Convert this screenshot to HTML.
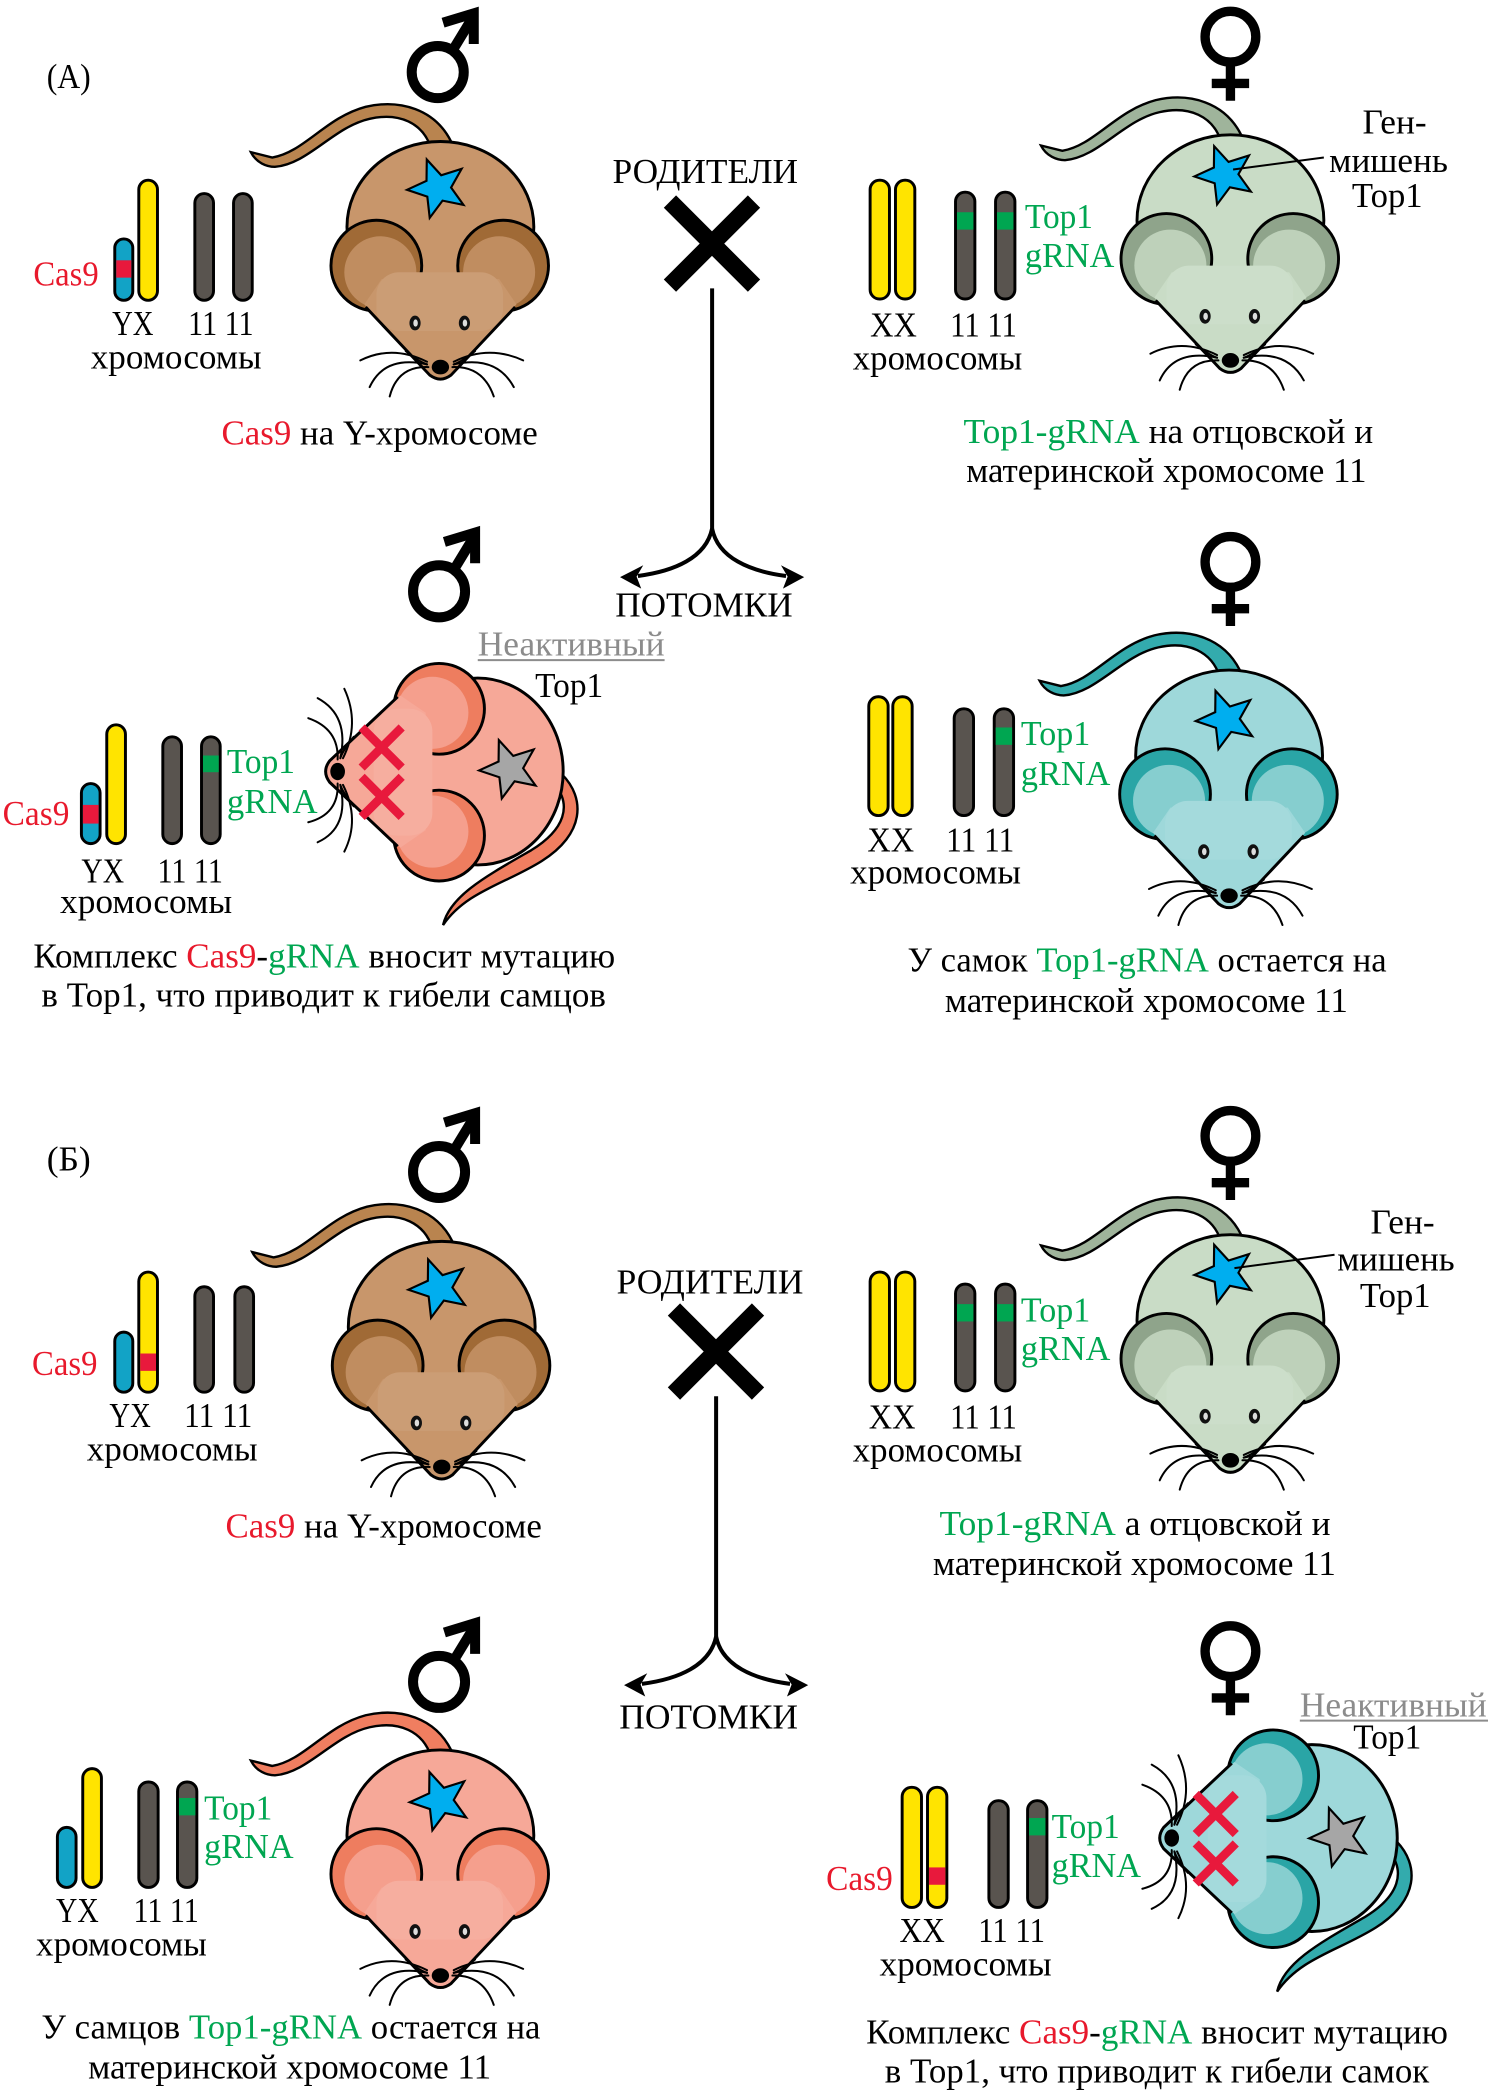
<!DOCTYPE html>
<html><head><meta charset="utf-8"><style>html,body{margin:0;padding:0;background:#fff;}svg{display:block;font-family:"Liberation Serif","Times New Roman",serif;}svg text{font-family:"Liberation Serif","Times New Roman",serif;}</style></head>
<body>
<svg xmlns="http://www.w3.org/2000/svg" width="1488" height="2093" viewBox="0 0 1115 1568" preserveAspectRatio="none" font-size="26">
<defs>
 <polygon id="star" points="-8.2,-21.5 2.6,-9.7 17.9,-14.5 10,-0.5 19.3,12.5 3.6,9.3 -6,22.2 -7.8,6.3 -23,1.2 -8.4,-5.5" stroke="#000" stroke-width="1.6"/>
 <path id="tailU" d="M8,-169 C-4,-193 -30,-201 -56,-195 C-86,-187 -102,-161 -126,-157 L-142,-161 C-138,-153 -130,-150 -124,-150 C-99,-152 -80,-180 -53,-186 C-31,-191 -13,-183 -7,-164 Z" stroke="#000" stroke-width="1.8"/>
 <path id="tailR" d="M168,2 C186,20 185,47 153,67 C126,84 96,90 79,115 C84,93 112,78 145,59 C171,43 175,25 163,10 Z" stroke="#000" stroke-width="1.8"/>
 <g id="mouse">
  <ellipse cx="0" cy="-105" rx="70" ry="64" stroke="#000" stroke-width="2.2"/>
  <circle cx="-48" cy="-76" r="34" fill="currentColor" stroke="#000" stroke-width="2.2"/>
  <circle cx="-45" cy="-71" r="27" fill-opacity="0.8"/>
  <circle cx="47" cy="-76" r="34" fill="currentColor" stroke="#000" stroke-width="2.2"/>
  <circle cx="44" cy="-71" r="27" fill-opacity="0.8"/>
  <path d="M-57,-47 L-8,6 Q0,12 8,6 L57,-47 L44,-66 L-44,-66 Z"/>
  <rect x="-48" y="-71" width="95" height="44" rx="17"/>
  <rect x="-48" y="-71" width="95" height="44" rx="17" fill="#fff" fill-opacity="0.07"/>
  <path d="M-56,-45 L-8,6 Q0,12 8,6 L56,-45" fill="none" stroke="#000" stroke-width="2.2"/>
  <g fill="none" stroke="#000" stroke-width="1.5" stroke-linecap="round">
   <path d="M-10,-4 Q-36,-17 -60,-5"/>
   <path d="M-10,-2 Q-42,-9 -53,15"/>
   <path d="M-9,0 Q-32,-1 -38,22"/>
   <path d="M10,-4 Q36,-17 62,-5"/>
   <path d="M10,-2 Q42,-9 55,15"/>
   <path d="M9,0 Q32,-1 40,22"/>
   <path d="M-26,-12 Q-16,-4 -10,-2"/>
   <path d="M26,-12 Q16,-4 10,-2"/>
  </g>
  <ellipse cx="0" cy="0" rx="6.5" ry="5.5" fill="#000"/>
 </g>
 <g id="eyes">
  <ellipse cx="-19" cy="-33" rx="4.2" ry="5.5" fill="#111"/>
  <ellipse cx="18" cy="-33" rx="4.2" ry="5.5" fill="#111"/>
  <ellipse cx="-18.6" cy="-33" rx="1.7" ry="2.7" fill="#ddd"/>
  <ellipse cx="18.4" cy="-33" rx="1.7" ry="2.7" fill="#ddd"/>
 </g>
 <g id="xx" stroke="#e8193c" stroke-width="6.5" fill="none">
  <path d="M-34,-48 L-4,-18 M-4,-48 L-34,-18 M3,-48 L33,-18 M33,-48 L3,-18"/>
 </g>
 <g id="male" fill="none" stroke="#000" stroke-width="7.5">
  <circle r="19.5"/>
  <path d="M11,-16 L25,-39"/>
  <path d="M4,-37 L27,-44 L27,-21" stroke-linejoin="miter" stroke-miterlimit="10"/>
 </g>
 <g id="female" fill="none" stroke="#000" stroke-width="7">
  <circle r="19"/>
  <path d="M0,22 V48 M-14,35 H14"/>
 </g>
 <g id="cross">
  <path d="M502,151 L565,214 M565,151 L502,214" stroke="#000" stroke-width="13" fill="none"/>
  <path d="M533.6,216 V396" stroke="#000" stroke-width="3" fill="none"/>
  <path d="M533.6,396 C529,418 505,428 478,431.5" stroke="#000" stroke-width="3" fill="none"/>
  <path d="M533.6,396 C538,418 562,428 589,431.5" stroke="#000" stroke-width="3" fill="none"/>
  <polygon points="464.6,432.4 482,423.5 477,432 480.5,441" fill="#000"/>
  <polygon points="602.6,432.4 585.2,423.5 590.2,432 586.7,441" fill="#000"/>
 </g>
</defs>

<!-- ===================== SECTION A ===================== -->
<text x="35" y="66" textLength="33" lengthAdjust="spacingAndGlyphs">(А)</text>

<rect x="86" y="179" width="13.5" height="46" rx="6.7" fill="#12a3c6" stroke="#000" stroke-width="2.2"/>
<rect x="87.1" y="195" width="11.3" height="13" fill="#e8193c"/>
<rect x="104" y="135" width="14" height="90" rx="7" fill="#ffe400" stroke="#000" stroke-width="2.2"/>
<rect x="146" y="145" width="14" height="80" rx="7" fill="#59544f" stroke="#000" stroke-width="2.2"/>
<rect x="175" y="145" width="14" height="80" rx="7" fill="#59544f" stroke="#000" stroke-width="2.2"/>
<text x="25" y="214" textLength="49" lengthAdjust="spacingAndGlyphs" fill="#e8192c">Cas9</text>
<text x="84" y="251" textLength="31" lengthAdjust="spacingAndGlyphs">YX</text>
<text x="141" y="251" textLength="49" lengthAdjust="spacingAndGlyphs">11 11</text>
<text x="68" y="276" textLength="128" lengthAdjust="spacingAndGlyphs">хромосомы</text>
<text x="166" y="333" textLength="237" lengthAdjust="spacingAndGlyphs"><tspan fill="#e8192c">Cas9</tspan> на Y-хромосоме</text>

<use href="#male" transform="translate(328,54)"/>
<use href="#tailU" transform="translate(330,275)" fill="#b9844f"/>
<use href="#mouse" transform="translate(330,275)" fill="#c8966b" color="#a06a36"/>
<use href="#eyes" transform="translate(330,275)"/>
<use href="#star" transform="translate(328,141)" fill="#00aeef"/>

<text x="459" y="137" textLength="139" lengthAdjust="spacingAndGlyphs">РОДИТЕЛИ</text>
<use href="#cross"/>
<text x="461" y="462" textLength="133" lengthAdjust="spacingAndGlyphs">ПОТОМКИ</text>

<use href="#female" transform="translate(922,27.5)"/>
<use href="#tailU" transform="translate(922,270)" fill="#9fb49b"/>
<use href="#mouse" transform="translate(922,270)" fill="#c9dcc6" color="#8fa48b"/>
<use href="#eyes" transform="translate(922,270)"/>
<use href="#star" transform="translate(918,131)" fill="#00aeef"/>
<line x1="924" y1="127" x2="992" y2="118" stroke="#000" stroke-width="1.5"/>
<text x="1021" y="100" textLength="48" lengthAdjust="spacingAndGlyphs">Ген-</text>
<text x="996" y="129" textLength="89" lengthAdjust="spacingAndGlyphs">мишень</text>
<text x="1013" y="155" textLength="53" lengthAdjust="spacingAndGlyphs">Top1</text>

<rect x="652" y="135" width="14.5" height="89" rx="7" fill="#ffe400" stroke="#000" stroke-width="2.2"/>
<rect x="671" y="135" width="14.5" height="89" rx="7" fill="#ffe400" stroke="#000" stroke-width="2.2"/>
<rect x="716" y="144" width="14.5" height="80" rx="7" fill="#59544f" stroke="#000" stroke-width="2.2"/>
<rect x="717.1" y="159" width="12.3" height="13" fill="#00a651"/>
<rect x="746" y="144" width="14.5" height="80" rx="7" fill="#59544f" stroke="#000" stroke-width="2.2"/>
<rect x="747.1" y="159" width="12.3" height="13" fill="#00a651"/>
<text x="768" y="171" textLength="51" lengthAdjust="spacingAndGlyphs" fill="#00a651">Top1</text>
<text x="768" y="200" textLength="67" lengthAdjust="spacingAndGlyphs" fill="#00a651">gRNA</text>
<text x="652" y="252" textLength="35" lengthAdjust="spacingAndGlyphs">XX</text>
<text x="712" y="252" textLength="50" lengthAdjust="spacingAndGlyphs">11 11</text>
<text x="639" y="277" textLength="127" lengthAdjust="spacingAndGlyphs">хромосомы</text>
<text x="722" y="332" textLength="307" lengthAdjust="spacingAndGlyphs"><tspan fill="#00a651">Top1-gRNA</tspan> на отцовской и</text>
<text x="724" y="361" textLength="300" lengthAdjust="spacingAndGlyphs">материнской хромосоме 11</text>

<use href="#male" transform="translate(329,443)"/>
<text x="358" y="491" textLength="140" lengthAdjust="spacingAndGlyphs" fill="#8c8c8c">Неактивный</text>
<line x1="358" y1="494.5" x2="498" y2="494.5" stroke="#8c8c8c" stroke-width="1.5"/>
<text x="401" y="522" textLength="51" lengthAdjust="spacingAndGlyphs">Top1</text>

<use href="#tailR" transform="translate(253,578)" fill="#f07e60"/>
<use href="#mouse" transform="matrix(0,-1,-1,0,253,578)" fill="#f6a898" color="#ee7d5f"/>
<use href="#xx" transform="matrix(0,-1,-1,0,253,578)"/>
<use href="#star" transform="translate(382,576)" fill="#a6a6a6"/>

<rect x="61" y="587" width="14" height="45" rx="7" fill="#12a3c6" stroke="#000" stroke-width="2.2"/>
<rect x="62.1" y="603" width="11.8" height="14" fill="#e8193c"/>
<rect x="80" y="543" width="14" height="89" rx="7" fill="#ffe400" stroke="#000" stroke-width="2.2"/>
<rect x="122" y="552" width="14" height="80" rx="7" fill="#59544f" stroke="#000" stroke-width="2.2"/>
<rect x="151" y="552" width="14" height="80" rx="7" fill="#59544f" stroke="#000" stroke-width="2.2"/>
<rect x="152.1" y="566" width="11.8" height="12.5" fill="#00a651"/>
<text x="2" y="618" textLength="50" lengthAdjust="spacingAndGlyphs" fill="#e8192c">Cas9</text>
<text x="170" y="579" textLength="51" lengthAdjust="spacingAndGlyphs" fill="#00a651">Top1</text>
<text x="170" y="609" textLength="68" lengthAdjust="spacingAndGlyphs" fill="#00a651">gRNA</text>
<text x="61" y="661" textLength="32" lengthAdjust="spacingAndGlyphs">YX</text>
<text x="118" y="661" textLength="49" lengthAdjust="spacingAndGlyphs">11 11</text>
<text x="45" y="684" textLength="129" lengthAdjust="spacingAndGlyphs">хромосомы</text>
<text x="25" y="725" textLength="436" lengthAdjust="spacingAndGlyphs">Комплекс <tspan fill="#e8192c">Cas9</tspan>-<tspan fill="#00a651">gRNA</tspan> вносит мутацию</text>
<text x="31" y="754" textLength="423" lengthAdjust="spacingAndGlyphs">в Top1, что приводит к гибели самцов</text>

<use href="#female" transform="translate(922,421)"/>
<use href="#tailU" transform="translate(921,671)" fill="#33abad"/>
<use href="#mouse" transform="translate(921,671)" fill="#9ed8da" color="#2aa5a6"/>
<use href="#eyes" transform="translate(921,671)"/>
<use href="#star" transform="translate(919,539)" fill="#00aeef"/>

<rect x="651" y="522" width="14.5" height="89" rx="7" fill="#ffe400" stroke="#000" stroke-width="2.2"/>
<rect x="669" y="522" width="14.5" height="89" rx="7" fill="#ffe400" stroke="#000" stroke-width="2.2"/>
<rect x="715" y="531" width="14.5" height="80" rx="7" fill="#59544f" stroke="#000" stroke-width="2.2"/>
<rect x="745" y="531" width="14.5" height="80" rx="7" fill="#59544f" stroke="#000" stroke-width="2.2"/>
<rect x="746.1" y="545" width="12.3" height="13" fill="#00a651"/>
<text x="765" y="558" textLength="52" lengthAdjust="spacingAndGlyphs" fill="#00a651">Top1</text>
<text x="765" y="588" textLength="67" lengthAdjust="spacingAndGlyphs" fill="#00a651">gRNA</text>
<text x="650" y="638" textLength="35" lengthAdjust="spacingAndGlyphs">XX</text>
<text x="709" y="638" textLength="51" lengthAdjust="spacingAndGlyphs">11 11</text>
<text x="637" y="662" textLength="128" lengthAdjust="spacingAndGlyphs">хромосомы</text>
<text x="680" y="728" textLength="359" lengthAdjust="spacingAndGlyphs">У самок <tspan fill="#00a651">Top1-gRNA</tspan> остается на</text>
<text x="708" y="758" textLength="302" lengthAdjust="spacingAndGlyphs">материнской хромосоме 11</text>

<!-- ===================== SECTION B ===================== -->
<text x="35" y="877" textLength="33" lengthAdjust="spacingAndGlyphs">(Б)</text>

<rect x="86" y="998" width="13.5" height="45" rx="6.7" fill="#12a3c6" stroke="#000" stroke-width="2.2"/>
<rect x="104" y="953" width="14" height="90" rx="7" fill="#ffe400" stroke="#000" stroke-width="2.2"/>
<rect x="105.1" y="1014" width="11.8" height="13" fill="#e8193c"/>
<rect x="146" y="964" width="14" height="79" rx="7" fill="#59544f" stroke="#000" stroke-width="2.2"/>
<rect x="176" y="964" width="14" height="79" rx="7" fill="#59544f" stroke="#000" stroke-width="2.2"/>
<text x="24" y="1030" textLength="49" lengthAdjust="spacingAndGlyphs" fill="#e8192c">Cas9</text>
<text x="82" y="1069" textLength="31" lengthAdjust="spacingAndGlyphs">YX</text>
<text x="138" y="1069" textLength="51" lengthAdjust="spacingAndGlyphs">11 11</text>
<text x="65" y="1094" textLength="128" lengthAdjust="spacingAndGlyphs">хромосомы</text>
<text x="169" y="1152" textLength="237" lengthAdjust="spacingAndGlyphs"><tspan fill="#e8192c">Cas9</tspan> на Y-хромосоме</text>

<use href="#male" transform="translate(329,878)"/>
<use href="#tailU" transform="translate(331,1099)" fill="#b9844f"/>
<use href="#mouse" transform="translate(331,1099)" fill="#c8966b" color="#a06a36"/>
<use href="#eyes" transform="translate(331,1099)"/>
<use href="#star" transform="translate(329,965)" fill="#00aeef"/>

<text x="462" y="969" textLength="140" lengthAdjust="spacingAndGlyphs">РОДИТЕЛИ</text>
<use href="#cross" transform="translate(3,830)"/>
<text x="464" y="1295" textLength="134" lengthAdjust="spacingAndGlyphs">ПОТОМКИ</text>

<use href="#female" transform="translate(922,851)"/>
<use href="#tailU" transform="translate(922,1094)" fill="#9fb49b"/>
<use href="#mouse" transform="translate(922,1094)" fill="#c9dcc6" color="#8fa48b"/>
<use href="#eyes" transform="translate(922,1094)"/>
<use href="#star" transform="translate(918,954)" fill="#00aeef"/>
<line x1="925" y1="950" x2="1000" y2="940" stroke="#000" stroke-width="1.5"/>
<text x="1027" y="924" textLength="48" lengthAdjust="spacingAndGlyphs">Ген-</text>
<text x="1002" y="952" textLength="88" lengthAdjust="spacingAndGlyphs">мишень</text>
<text x="1019" y="979" textLength="53" lengthAdjust="spacingAndGlyphs">Top1</text>

<rect x="652" y="953" width="14.5" height="89" rx="7" fill="#ffe400" stroke="#000" stroke-width="2.2"/>
<rect x="671" y="953" width="14.5" height="89" rx="7" fill="#ffe400" stroke="#000" stroke-width="2.2"/>
<rect x="716" y="962" width="14.5" height="80" rx="7" fill="#59544f" stroke="#000" stroke-width="2.2"/>
<rect x="717.1" y="977" width="12.3" height="13" fill="#00a651"/>
<rect x="746" y="962" width="14.5" height="80" rx="7" fill="#59544f" stroke="#000" stroke-width="2.2"/>
<rect x="747.1" y="977" width="12.3" height="13" fill="#00a651"/>
<text x="765" y="990" textLength="52" lengthAdjust="spacingAndGlyphs" fill="#00a651">Top1</text>
<text x="765" y="1019" textLength="67" lengthAdjust="spacingAndGlyphs" fill="#00a651">gRNA</text>
<text x="651" y="1070" textLength="35" lengthAdjust="spacingAndGlyphs">XX</text>
<text x="712" y="1070" textLength="50" lengthAdjust="spacingAndGlyphs">11 11</text>
<text x="639" y="1095" textLength="127" lengthAdjust="spacingAndGlyphs">хромосомы</text>
<text x="704" y="1150" textLength="293" lengthAdjust="spacingAndGlyphs"><tspan fill="#00a651">Top1-gRNA</tspan> а отцовской и</text>
<text x="699" y="1180" textLength="302" lengthAdjust="spacingAndGlyphs">материнской хромосоме 11</text>

<use href="#male" transform="translate(329,1260)"/>
<use href="#tailU" transform="translate(330,1480)" fill="#f07e60"/>
<use href="#mouse" transform="translate(330,1480)" fill="#f6a898" color="#ee7d5f"/>
<use href="#eyes" transform="translate(330,1480)"/>
<use href="#star" transform="translate(330,1349)" fill="#00aeef"/>

<rect x="43" y="1369" width="14" height="45" rx="7" fill="#12a3c6" stroke="#000" stroke-width="2.2"/>
<rect x="62" y="1325" width="14" height="89" rx="7" fill="#ffe400" stroke="#000" stroke-width="2.2"/>
<rect x="104" y="1335" width="14.5" height="79" rx="7" fill="#59544f" stroke="#000" stroke-width="2.2"/>
<rect x="133" y="1335" width="14.5" height="79" rx="7" fill="#59544f" stroke="#000" stroke-width="2.2"/>
<rect x="134.1" y="1347" width="12.3" height="13" fill="#00a651"/>
<text x="153" y="1363" textLength="51" lengthAdjust="spacingAndGlyphs" fill="#00a651">Top1</text>
<text x="153" y="1392" textLength="67" lengthAdjust="spacingAndGlyphs" fill="#00a651">gRNA</text>
<text x="42" y="1440" textLength="32" lengthAdjust="spacingAndGlyphs">YX</text>
<text x="100" y="1440" textLength="49" lengthAdjust="spacingAndGlyphs">11 11</text>
<text x="27" y="1465" textLength="128" lengthAdjust="spacingAndGlyphs">хромосомы</text>
<text x="31" y="1527" textLength="374" lengthAdjust="spacingAndGlyphs">У самцов <tspan fill="#00a651">Top1-gRNA</tspan> остается на</text>
<text x="66" y="1557" textLength="302" lengthAdjust="spacingAndGlyphs">материнской хромосоме 11</text>

<use href="#female" transform="translate(922,1237)"/>
<text x="974" y="1286" textLength="140" lengthAdjust="spacingAndGlyphs" fill="#8c8c8c">Неактивный</text>
<line x1="974" y1="1289" x2="1115" y2="1289" stroke="#8c8c8c" stroke-width="1.5"/>
<text x="1014" y="1310" textLength="51" lengthAdjust="spacingAndGlyphs">Top1</text>

<use href="#tailR" transform="translate(878,1377)" fill="#33abad"/>
<use href="#mouse" transform="matrix(0,-1,-1,0,878,1377)" fill="#9ed8da" color="#2aa5a6"/>
<use href="#xx" transform="matrix(0,-1,-1,0,878,1377)"/>
<use href="#star" transform="translate(1004,1376)" fill="#a6a6a6"/>

<rect x="676" y="1339" width="14.5" height="90" rx="7" fill="#ffe400" stroke="#000" stroke-width="2.2"/>
<rect x="695" y="1339" width="14.5" height="90" rx="7" fill="#ffe400" stroke="#000" stroke-width="2.2"/>
<rect x="696.1" y="1399" width="12.3" height="13" fill="#e8193c"/>
<rect x="741" y="1349" width="14.5" height="80" rx="7" fill="#59544f" stroke="#000" stroke-width="2.2"/>
<rect x="770" y="1349" width="14.5" height="80" rx="7" fill="#59544f" stroke="#000" stroke-width="2.2"/>
<rect x="771.1" y="1362" width="12.3" height="13" fill="#00a651"/>
<text x="619" y="1416" textLength="50" lengthAdjust="spacingAndGlyphs" fill="#e8192c">Cas9</text>
<text x="788" y="1377" textLength="51" lengthAdjust="spacingAndGlyphs" fill="#00a651">Top1</text>
<text x="788" y="1406" textLength="67" lengthAdjust="spacingAndGlyphs" fill="#00a651">gRNA</text>
<text x="674" y="1455" textLength="34" lengthAdjust="spacingAndGlyphs">XX</text>
<text x="733" y="1455" textLength="50" lengthAdjust="spacingAndGlyphs">11 11</text>
<text x="659" y="1480" textLength="129" lengthAdjust="spacingAndGlyphs">хромосомы</text>
<text x="649" y="1531" textLength="436" lengthAdjust="spacingAndGlyphs">Комплекс <tspan fill="#e8192c">Cas9</tspan>-<tspan fill="#00a651">gRNA</tspan> вносит мутацию</text>
<text x="663" y="1560" textLength="408" lengthAdjust="spacingAndGlyphs">в Top1, что приводит к гибели самок</text>
</svg>
</body></html>
